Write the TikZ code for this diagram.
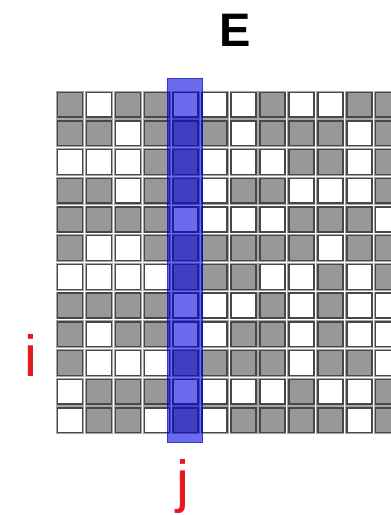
\documentclass[tikz,border=0pt]{standalone}
\usepackage{fontspec}
\setmainfont{Liberation Sans}
\definecolor{cellgray}{RGB}{152,152,152}
\definecolor{bandblue}{RGB}{0,0,225}
\definecolor{labelred}{RGB}{232,22,30}
\begin{document}
\begin{tikzpicture}[x=1pt, y=-1pt,
  every node/.style={inner sep=0pt},
  cell/.style={draw=black!72, line width=1.4pt, minimum width=25pt, minimum height=24.8pt,
    preaction={draw=black!35, line width=3pt}},
  letter/.style={text=labelred, font=\fontsize{58}{58}\selectfont, anchor=base}]
\useasboundingbox (0,0) rectangle (391,515);
\begin{scope}
\clip (0,0) rectangle (391,515);
\foreach \row [count=\r from 0] in {
  {1,0,1,1,0,0,0,1,0,0,1,1},
  {1,1,0,1,1,1,0,1,1,1,0,1},
  {0,0,0,1,1,0,0,0,1,1,0,1},
  {1,1,0,1,1,0,1,1,0,0,0,1},
  {1,1,1,1,0,0,0,0,1,1,1,0},
  {1,0,0,1,1,1,1,1,1,0,1,1},
  {0,0,0,0,1,1,1,0,0,1,0,1},
  {1,1,1,1,0,0,0,1,0,1,0,0},
  {1,0,1,1,0,0,1,1,0,1,0,0},
  {1,0,0,0,1,1,1,1,0,1,1,0},
  {0,1,1,1,0,0,0,0,1,0,0,1},
  {0,1,1,0,1,0,1,1,1,1,0,1}}
{
  \foreach \v [count=\c from 0] in \row {
    \ifnum\v=1 \def\cellfill{cellgray}\else\def\cellfill{white}\fi
    \node[cell, fill=\cellfill] (e-\r-\c) at ({69.9+28.94*\c},{104.6+28.7*\r}) {};
  }
}
\end{scope}

\fill[bandblue, opacity=0.58] (166.7,78.3) rectangle (203.3,443.3);
\draw[bandblue!80!black, opacity=0.5, line width=1pt] (167.2,78.8) rectangle (202.8,442.8);

\node[font=\bfseries\fontsize{47}{47}\selectfont, anchor=base] (title) at (235,46.7) {E};
\node[letter] (rowlabel) at (30.7,376.5) {i};
\node[letter] (collabel) at (183,501) {j};
\end{tikzpicture}
\end{document}
